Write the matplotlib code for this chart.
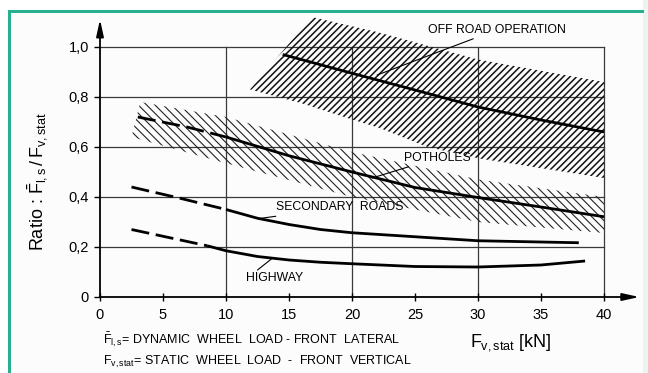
import matplotlib
matplotlib.use("Agg")
import matplotlib.pyplot as plt
from matplotlib.patches import Rectangle

plt.rcParams['font.family'] = ['Liberation Sans', 'DejaVu Sans']
plt.rcParams['mathtext.fontset'] = 'custom'
plt.rcParams['mathtext.rm'] = 'Liberation Sans'
plt.rcParams['mathtext.it'] = 'Liberation Sans'
plt.rcParams['mathtext.bf'] = 'Liberation Sans:bold'

# ---------------- data ----------------
xticks = [0, 5, 10, 15, 20, 25, 30, 35, 40]
yticks = [0, 0.2, 0.4, 0.6, 0.8, 1.0]
ytick_labels = ['0', '0,2', '0,4', '0,6', '0,8', '1,0']

offroad_x = [14.5, 20, 25, 30, 35, 40]
offroad_y = [0.97, 0.895, 0.828, 0.76, 0.708, 0.66]
offroad_band_low_x = [11.9, 16, 20, 22.2, 26, 30, 40]
offroad_band_low_y = [0.83, 0.775, 0.71, 0.676, 0.60, 0.555, 0.476]
offroad_band_up_x = [16.8, 22, 30, 40]
offroad_band_up_y = [1.12, 1.06, 0.95, 0.86]

pot_dash_x = [3.0, 6.9, 10]
pot_dash_y = [0.72, 0.68, 0.64]
pot_x = [10, 15, 20, 25, 30, 35, 40]
pot_y = [0.64, 0.565, 0.50, 0.438, 0.398, 0.36, 0.321]
pot_band_low_x = [2.5, 10, 20, 30, 40]
pot_band_low_y = [0.64, 0.535, 0.40, 0.30, 0.256]
pot_band_up_x = [3.2, 10, 20, 30, 40]
pot_band_up_y = [0.78, 0.72, 0.58, 0.47, 0.40]

sec_dash_x = [2.5, 6.35, 10]
sec_dash_y = [0.44, 0.395, 0.35]
sec_x = [10, 12.5, 15, 17.5, 20, 25, 30, 35, 38]
sec_y = [0.35, 0.315, 0.29, 0.27, 0.257, 0.241, 0.225, 0.22, 0.217]

hw_dash_x = [2.5, 8.5]
hw_dash_y = [0.27, 0.205]
hw_x = [8.5, 10, 12.5, 15, 17.5, 20, 25, 30, 35, 38.5]
hw_y = [0.205, 0.185, 0.162, 0.148, 0.139, 0.133, 0.122, 0.12, 0.128, 0.144]

# ---------------- figure ----------------
fig = plt.figure(figsize=(6.48, 3.73), dpi=100)
fig.patch.set_facecolor('white')
green = '#27b08e'
W, H = 648, 373
def px(x0, y0, w, h, **kw):
    fig.patches.append(Rectangle((x0 / W, 1 - (y0 + h) / H), w / W, h / H,
                                 transform=fig.transFigure, figure=fig,
                                 zorder=-10, **kw))
px(10, 12, 633, 361, facecolor='#fcfcfc', edgecolor='none')
px(643, 0, 5, 373, facecolor='#e8f5f0', edgecolor='none')
px(7.5, 10, 3, 363, facecolor=green, edgecolor='none')
px(7.5, 10, 636, 2.6, facecolor=green, edgecolor='none')

ax = fig.add_axes([100 / W, 1 - 297 / H, (42.8 * 12.6) / W, (1.11 * 250) / H])
ax.set_zorder(5)
ax.set_facecolor('none')
ax.set_xlim(0, 42.8)
ax.set_ylim(0, 1.11)
for s in ax.spines.values():
    s.set_visible(False)

# grid
for yv in yticks[1:]:
    ax.plot([0, 40], [yv, yv], color='#3a3a3a', lw=0.9, zorder=1)
for xv in [10, 20, 30, 40]:
    ax.plot([xv, xv], [0, 1.0], color='#3a3a3a', lw=0.9, zorder=1)

# axes with arrows
ax.annotate('', xy=(42.8, 0), xytext=(0, 0), annotation_clip=False,
            arrowprops=dict(arrowstyle='-|>,head_length=1.0,head_width=0.22',
                            lw=1.3, color='k', shrinkA=0, shrinkB=0))
ax.annotate('', xy=(0, 1.11), xytext=(0, 0), annotation_clip=False,
            arrowprops=dict(arrowstyle='-|>,head_length=1.0,head_width=0.22',
                            lw=1.3, color='k', shrinkA=0, shrinkB=0))

ax.set_xticks(xticks)
ax.set_xticklabels([str(v) for v in xticks])
ax.set_yticks(yticks)
ax.set_yticklabels(ytick_labels)
ax.tick_params(axis='x', direction='inout', length=6, width=1.0, pad=5, labelsize=10.5)
ax.tick_params(axis='y', direction='out', length=4, width=1.0, pad=4, labelsize=10.5)

# bands
with plt.rc_context({'hatch.linewidth': 1.1}):
    band_x = offroad_band_low_x + offroad_band_up_x[::-1]
    band_y = offroad_band_low_y + offroad_band_up_y[::-1]
    ax.fill(band_x, band_y, facecolor='none', edgecolor='#111111', hatch='/////',
            linewidth=0, clip_on=False, zorder=2)
with plt.rc_context({'hatch.linewidth': 0.8}):
    band_x = pot_band_low_x + pot_band_up_x[::-1]
    band_y = pot_band_low_y + pot_band_up_y[::-1]
    ax.fill(band_x, band_y, facecolor='none', edgecolor='#222222', hatch='\\\\\\\\',
            linewidth=0, clip_on=False, zorder=2)

# curves
lw = 2.0
dash = (6.5, 2.4)
ax.plot(offroad_x, offroad_y, color='k', lw=lw, zorder=4, solid_capstyle='butt')
ax.plot(pot_dash_x, pot_dash_y, color='k', lw=lw, dashes=dash, zorder=4)
ax.plot(pot_x, pot_y, color='k', lw=lw, zorder=4, solid_capstyle='butt')
ax.plot(sec_dash_x, sec_dash_y, color='k', lw=lw, dashes=dash, zorder=4)
ax.plot(sec_x, sec_y, color='k', lw=lw, zorder=4, solid_capstyle='butt')
ax.plot(hw_dash_x, hw_dash_y, color='k', lw=lw, dashes=dash, zorder=4)
ax.plot(hw_x, hw_y, color='k', lw=lw, zorder=4, solid_capstyle='butt')

# annotations
fs = 8.8
ap = dict(arrowstyle='-', lw=0.8, color='k', shrinkA=0, shrinkB=0)
ax.annotate('OFF ROAD OPERATION', xy=(22.0, 0.888), xytext=(26.0, 1.068),
            fontsize=fs, ha='left', va='center', arrowprops=ap,
            annotation_clip=False)
ax.annotate('POTHOLES', xy=(21.6, 0.476), xytext=(24.1, 0.556),
            fontsize=fs, ha='left', va='center', arrowprops=ap)
ax.annotate('SECONDARY  ROADS', xy=(12.8, 0.315), xytext=(14.0, 0.358),
            fontsize=fs, ha='left', va='center', arrowprops=ap)
ax.annotate('', xy=(13.7, 0.156), xytext=(12.5, 0.108), arrowprops=ap)
ax.text(11.6, 0.076, 'HIGHWAY', fontsize=fs, ha='left', va='center')

# labels
fig.text(38 / W, 1 - 182 / H, r'Ratio : $\bar{F}_{l,s}\,/\,F_{v,stat}$',
         rotation=90, ha='center', va='center', fontsize=13)
fig.text(511 / W, 1 - 343 / H, r'$F_{v,stat}$ [kN]', ha='center', va='center',
         fontsize=13)
fig.text(103 / W, 1 - 340 / H,
         r'$\bar{F}_{l,s}$= DYNAMIC  WHEEL  LOAD - FRONT  LATERAL',
         ha='left', va='center', fontsize=9)
fig.text(103 / W, 1 - 362 / H,
         r'$F_{v,stat}$= STATIC  WHEEL  LOAD  -  FRONT  VERTICAL',
         ha='left', va='center', fontsize=9)

fig.savefig('out.png', dpi=100)
